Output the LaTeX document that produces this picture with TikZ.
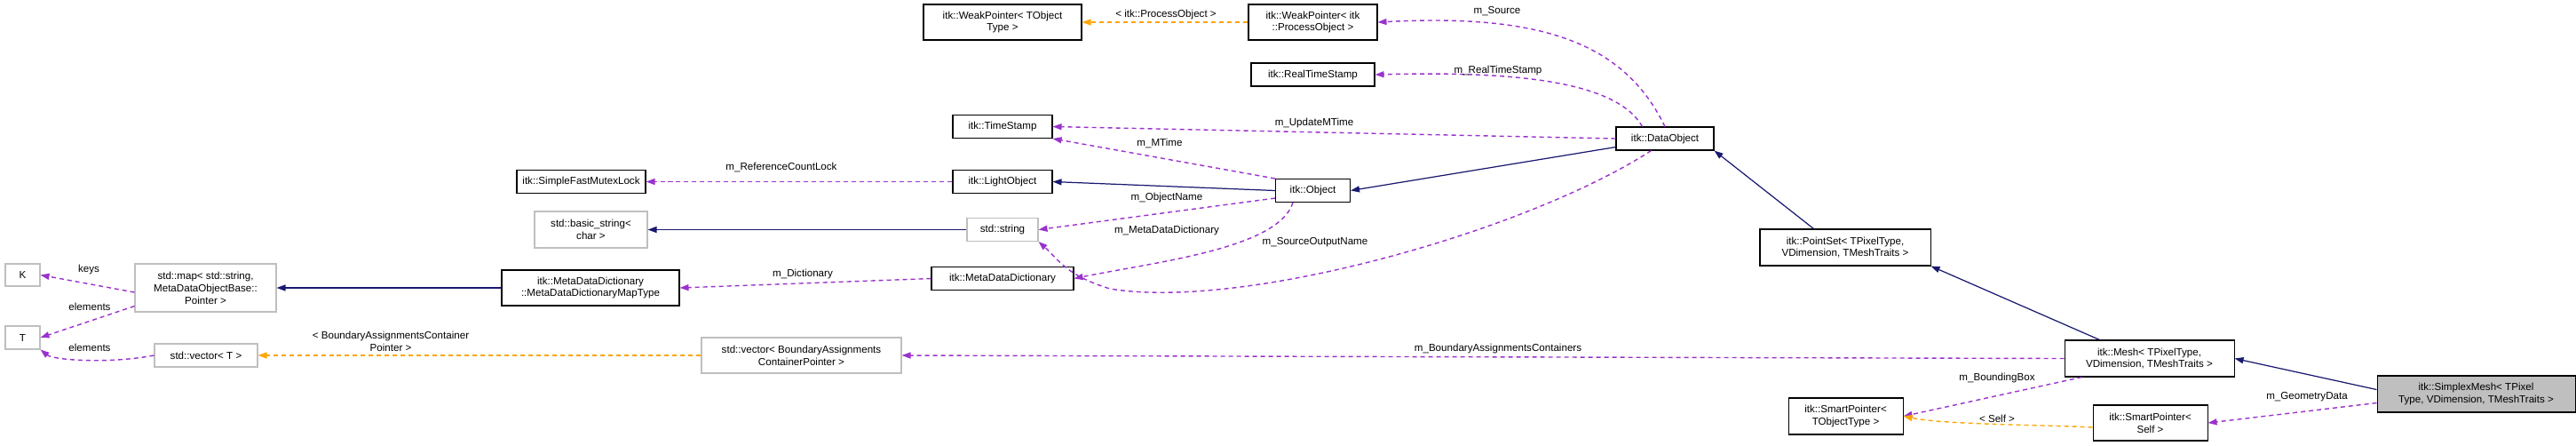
\documentclass[tikz,border=0pt]{standalone}
\usepackage{fontspec}
\setmainfont{Liberation Sans}
\usepackage{tikz}
\usetikzlibrary{arrows.meta}

\definecolor{inh}{RGB}{25,25,112}
\definecolor{mem}{RGB}{154,50,205}
\definecolor{tpl}{RGB}{255,165,0}
\definecolor{ext}{RGB}{191,191,191}

\tikzset{
    cls/.style={draw, line width=0.3pt, rectangle, align=center, inner sep=0pt, font=\fontsize{3.3}{3.95}\selectfont},
    extcls/.style={cls, draw=ext},
    tip/.style={-{Triangle[length=0.1cm,width=0.07cm]}},
    inherit/.style={tip, draw=inh, line width=0.35pt},
    member/.style={tip, draw=mem, line width=0.4pt, dash pattern=on 0.05cm off 0.04cm},
    templ/.style={tip, draw=tpl, line width=0.4pt, dash pattern=on 0.05cm off 0.04cm},
    lbl/.style={align=center, inner sep=0pt, font=\fontsize{3.3}{3.95}\selectfont}
}

\begin{document}
\begin{tikzpicture}
    \useasboundingbox (0,0) rectangle (29.01,-5.01);
    % classes
    \node[cls, minimum width=1.78cm, minimum height=0.40cm] (wpT) at (11.29,-0.25) {itk::WeakPointer< TObject\\Type >};
    \node[cls, minimum width=1.45cm, minimum height=0.40cm] (wpP) at (14.785,-0.25) {itk::WeakPointer< itk\\::ProcessObject >};
    \node[cls, minimum width=1.39cm, minimum height=0.26cm] (rts) at (14.785,-0.84) {itk::RealTimeStamp};
    \node[cls, minimum width=1.12cm, minimum height=0.26cm] (ts) at (11.29,-1.425) {itk::TimeStamp};
    \node[cls, minimum width=1.12cm, minimum height=0.26cm] (lo) at (11.29,-2.045) {itk::LightObject};
    \node[cls, minimum width=1.45cm, minimum height=0.26cm] (sfml) at (6.545,-2.045) {itk::SimpleFastMutexLock};
    \node[cls, minimum width=0.84cm, minimum height=0.26cm] (obj) at (14.785,-2.145) {itk::Object};
    \node[cls, minimum width=1.10cm, minimum height=0.26cm] (dobj) at (18.75,-1.56) {itk::DataObject};
    \node[extcls, minimum width=0.80cm, minimum height=0.26cm] (str) at (11.29,-2.585) {std::string};
    \node[extcls, minimum width=1.27cm, minimum height=0.41cm] (bstr) at (6.655,-2.585) {std::basic\_string<\\char >};
    \node[cls, minimum width=1.92cm, minimum height=0.41cm] (ps) at (20.78,-2.785) {itk::PointSet< TPixelType,\\VDimension, TMeshTraits >};
    \node[cls, minimum width=1.60cm, minimum height=0.26cm] (mdd) at (11.29,-3.135) {itk::MetaDataDictionary};
    \node[cls, minimum width=2.00cm, minimum height=0.40cm] (mddmt) at (6.65,-3.24) {itk::MetaDataDictionary\\::MetaDataDictionaryMapType};
    \node[extcls, minimum width=1.59cm, minimum height=0.54cm] (map) at (2.315,-3.24) {std::map< std::string,\\MetaDataObjectBase::\\Pointer >};
    \node[extcls, minimum width=0.39cm, minimum height=0.25cm] (K) at (0.255,-3.095) {K};
    \node[extcls, minimum width=0.39cm, minimum height=0.26cm] (T) at (0.255,-3.80) {T};
    \node[extcls, minimum width=1.16cm, minimum height=0.26cm] (vecT) at (2.32,-4.00) {std::vector< T >};
    \node[extcls, minimum width=2.25cm, minimum height=0.40cm] (vbac) at (9.025,-4.00) {std::vector< BoundaryAssignments\\ContainerPointer >};
    \node[cls, minimum width=1.91cm, minimum height=0.41cm] (mesh) at (24.205,-4.035) {itk::Mesh< TPixelType,\\VDimension, TMeshTraits >};
    \node[cls, fill=ext, minimum width=2.23cm, minimum height=0.41cm] (smx) at (27.885,-4.435) {itk::SimplexMesh< TPixel\\Type, VDimension, TMeshTraits >};
    \node[cls, minimum width=1.29cm, minimum height=0.41cm] (spT) at (20.785,-4.685) {itk::SmartPointer<\\TObjectType >};
    \node[cls, minimum width=1.29cm, minimum height=0.40cm] (spS) at (24.215,-4.76) {itk::SmartPointer<\\Self >};
    % inheritance
    \draw[inherit] (obj.west) -- (lo.east);
    \draw[inherit] (dobj.south west) ++(0,0.04) -- (obj.east);
    \draw[inherit] (ps.north west) ++(0.61,0) -- (dobj.south east);
    \draw[inherit] (mesh.north west) ++(0.40,0) -- (ps.south east);
    \draw[inherit] (smx.west) ++(0,0.05) -- (mesh.east);
    \draw[inherit] (str.west) -- (bstr.east);
    \draw[inherit] (mddmt.west) -- (map.east);
    % members
    \draw[member] (dobj.north) .. controls (18.3,-0.5) and (17.4,-0.15) .. (wpP.east);
    \draw[member] (dobj.north west) ++(0.3,0) .. controls (18.2,-0.9) and (17.0,-0.8) .. (rts.east);
    \draw[member] (dobj.west) -- (ts.east);
    \draw[member] (obj.north west) -- (ts.south east);
    \draw[member] (lo.west) -- (sfml.east);
    \draw[member] (obj.south west) ++(0,0.05) -- (str.east);
    \draw[member] (obj.south west) ++(0.2,0) .. controls (14.4,-2.8) and (13.0,-2.95) .. (mdd.east);
    \draw[member] (dobj.south west) ++(0.4,0) .. controls (17.2,-2.6) and (14.0,-3.5) .. (12.5,-3.25) .. controls (12.0,-3.1) and (11.9,-2.9) .. (str.south east);
    \draw[member] (mdd.west) -- (mddmt.east);
    \draw[member] (map.west) ++(0,-0.05) -- (K.east);
    \draw[member] (map.south west) ++(0,0.07) -- (T.east);
    \draw[member] (vecT.west) .. controls (1.2,-4.1) and (0.6,-4.05) .. (T.south east);
    \draw[member] (mesh.west) -- (vbac.east);
    \draw[member] (mesh.south west) ++(0.2,0) -- (spT.east);
    \draw[member] (smx.west) ++(0,-0.1) -- (spS.east);
    % templates
    \draw[templ] (wpP.west) -- (wpT.east);
    \draw[templ] (vbac.west) -- (vecT.east);
    \draw[templ] (spS.west) ++(0,-0.05) .. controls (23.0,-4.78) and (21.9,-4.78) .. (spT.east);
    % labels
    \node[lbl] (lsrc) at (16.86,-0.13) {m\_Source};
    \node[lbl] (lrts) at (16.87,-0.79) {m\_RealTimeStamp};
    \node[lbl] (lumt) at (14.80,-1.38) {m\_UpdateMTime};
    \node[lbl] (lmt) at (13.06,-1.61) {m\_MTime};
    \node[lbl] (lrcl) at (8.80,-1.88) {m\_ReferenceCountLock};
    \node[lbl] (lon) at (13.14,-2.22) {m\_ObjectName};
    \node[lbl] (lmdd) at (13.14,-2.59) {m\_MetaDataDictionary};
    \node[lbl] (lson) at (14.81,-2.73) {m\_SourceOutputName};
    \node[lbl] (ldic) at (9.04,-3.08) {m\_Dictionary};
    \node[lbl] (lkey) at (1.00,-3.03) {keys};
    \node[lbl] (lel1) at (1.01,-3.45) {elements};
    \node[lbl] (lel2) at (1.01,-3.91) {elements};
    \node[lbl] (lbacp) at (4.40,-3.84) {< BoundaryAssignmentsContainer\\Pointer >};
    \node[lbl] (lbac) at (16.87,-3.92) {m\_BoundaryAssignmentsContainers};
    \node[lbl] (lbb) at (22.49,-4.25) {m\_BoundingBox};
    \node[lbl] (lself) at (22.49,-4.71) {< Self >};
    \node[lbl] (lgd) at (25.98,-4.47) {m\_GeometryData};
    \node[lbl] (lpo) at (13.13,-0.16) {< itk::ProcessObject >};
\end{tikzpicture}
\end{document}
